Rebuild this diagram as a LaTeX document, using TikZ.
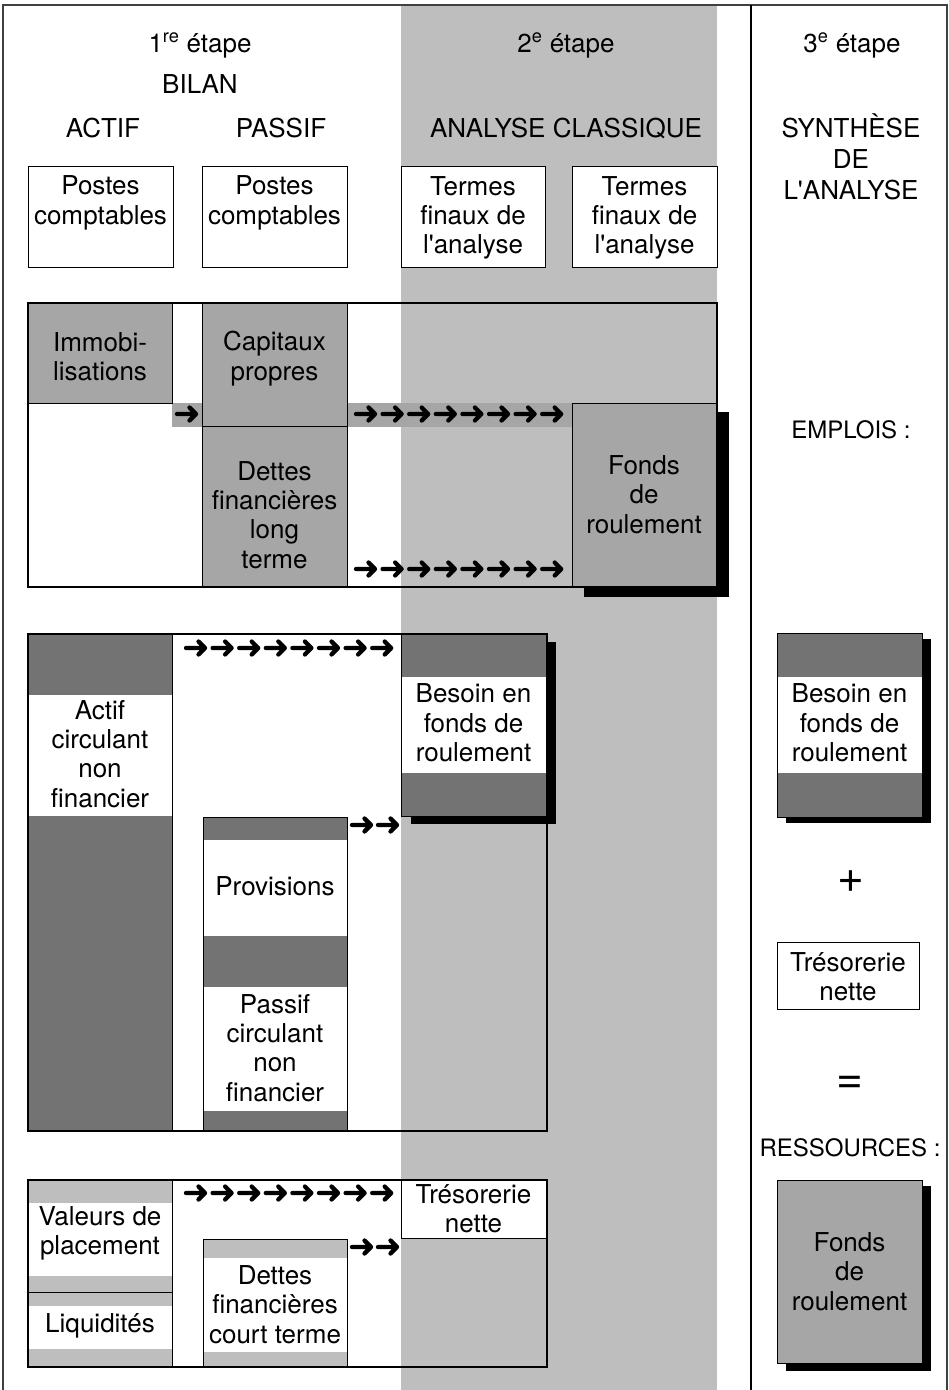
\documentclass[tikz,border=0pt]{standalone}
\usepackage{fontspec}
\newfontfamily\helv{TeX Gyre Heros}
\usetikzlibrary{calc}
\definecolor{bande}{gray}{0.745}
\definecolor{grismoyen}{gray}{0.65}
\definecolor{grisfonce}{gray}{0.45}
\definecolor{grisclair}{gray}{0.745}
\begin{document}
\begin{tikzpicture}[x=1pt,y=-1pt,
    txt/.style={font=\helv\fontsize{26}{29.3}\selectfont,align=center},
    petit/.style={font=\helv\fontsize{24}{28}\selectfont},
    signe/.style={font=\helv\fontsize{46}{46}\selectfont},
    cadre/.style={draw=black,line width=2pt},
    boite/.style={draw=black,line width=1pt},
    ombre/.style={fill=black},
    flecha/.pic={\draw [line width=4.3pt,line cap=round,line join=round] (2,0) -- (21,0) (14.5,-6.5) -- (21,0) -- (14.5,6.5);}]
            \tikzstyle{every node}+=[inner sep=0pt]
            \useasboundingbox (0,0) rectangle (949,1390);
            \fill [white] (0,0) rectangle (949,1390);
            \fill [bande] (401,5) rectangle (717,1390);
            \draw [black!75,line width=1.5pt] (3,1390) -- (3,5) -- (947,5) -- (947,1390);
            \draw [black,line width=2pt] (751,5) -- (751,1390);
            % en-tetes
            \node [txt,anchor=base] (etape1) at (200,52) {1\textsuperscript{re} étape};
            \node [txt,anchor=base] (etape2) at (566,52) {2\textsuperscript{e} étape};
            \node [txt,anchor=base] (etape3) at (852,52) {3\textsuperscript{e} étape};
            \node [txt,anchor=base] (bilan) at (200,93) {BILAN};
            \node [txt,anchor=base] (actif) at (103,137) {ACTIF};
            \node [txt,anchor=base] (passif) at (281,137) {PASSIF};
            \node [txt,anchor=base] (classique) at (566,137) {ANALYSE CLASSIQUE};
            \node [txt] (synthese) at (851,157) {SYNTHÈSE\\[1.5pt]DE\\[1.5pt]L'ANALYSE};
            \draw [boite,fill=white] (28,166) rectangle (173,267);
            \node [txt] (postesA) at (100.5,203) {Postes\\comptables};
            \draw [boite,fill=white] (202,166) rectangle (347,267);
            \node [txt] (postesP) at (274.5,203) {Postes\\comptables};
            \draw [boite,fill=white] (401,166) rectangle (545,267);
            \node [txt] (termesA) at (473,218) {Termes\\finaux de\\l'analyse};
            \draw [boite,fill=white] (572,166) rectangle (717,267);
            \node [txt] (termesB) at (644.5,218) {Termes\\finaux de\\l'analyse};
            % haut du bilan
            \fill [grismoyen] (172,403) rectangle (202,427);
            \fill [grismoyen] (347,403) rectangle (572,427);
            \draw [boite,fill=grismoyen] (28,303) rectangle (172,403);
            \draw [boite,fill=grismoyen] (202,303) rectangle (347,426);
            \draw [boite,fill=grismoyen] (202,426) rectangle (347,587);
            \fill [ombre] (584,412) rectangle (729,597);
            \draw [boite,fill=grismoyen] (572,403) rectangle (716,587);
            \draw [cadre] (28,303) rectangle (717,587);
            \node [txt] (immo) at (100,356.5) {Immobi-\\lisations};
            \node [txt] (capitaux) at (274.5,358.7) {Capitaux\\propres};
            \node [txt] (dettesLT) at (274.5,515) {Dettes\\financières\\long\\terme};
            \node [txt] (fondsA) at (644,494.5) {Fonds\\de\\roulement};
            \coordinate (fluxI) at (175,414);
            \coordinate (fluxC) at (354,414);
            \coordinate (fluxL) at (354,569);
            \pic at (fluxI) {flecha};
            \foreach \i in {0,...,7} {
                \pic at ($(fluxC)+(\i*26.6,0)$) {flecha};
                \pic at ($(fluxL)+(\i*26.6,0)$) {flecha};
            }
            % cycle d'exploitation
            \fill [grisfonce] (28,634) rectangle (172,1131);
            \fill [white] (28,695) rectangle (172,816);
            \draw [boite] (172,634) -- (172,1131);
            \fill [grisfonce] (203,817) rectangle (347,1131);
            \fill [white] (203,840) rectangle (347,936);
            \fill [white] (203,987) rectangle (347,1111);
            \draw [boite] (203,817) rectangle (347,1131);
            \fill [ombre] (411,642) rectangle (556,824);
            \fill [grisfonce] (401,634) rectangle (546,816);
            \fill [white] (401,677) rectangle (546,773);
            \draw [boite] (401,634) rectangle (546,816);
            \draw [cadre] (28,634) rectangle (547,1131);
            \node [txt] (actifC) at (100,754) {Actif\\circulant\\non\\financier};
            \node [txt] (besoinA) at (473.5,723) {Besoin en\\fonds de\\roulement};
            \node [txt] (provisions) at (275,886.5) {Provisions};
            \node [txt] (passifC) at (275,1048) {Passif\\circulant\\non\\financier};
            \coordinate (fluxE) at (184,648);
            \coordinate (fluxP) at (350,825);
            \foreach \i in {0,...,7} \pic at ($(fluxE)+(\i*26.6,0)$) {flecha};
            \foreach \i in {0,1} \pic at ($(fluxP)+(\i*26,0)$) {flecha};
            % tresorerie
            \fill [grisclair] (28,1180) rectangle (172,1367);
            \fill [white] (28,1203) rectangle (172,1276);
            \fill [white] (28,1306) rectangle (172,1349);
            \draw [boite] (28,1292) -- (172,1292);
            \draw [boite] (172,1180) -- (172,1367);
            \fill [grisclair] (203,1239) rectangle (347,1367);
            \fill [white] (203,1258) rectangle (347,1352);
            \draw [boite] (203,1239) rectangle (347,1367);
            \draw [boite,fill=white] (401,1180) rectangle (546,1238);
            \draw [cadre] (28,1180) rectangle (547,1367);
            \node [txt] (valeurs) at (100,1233) {Valeurs de\\placement};
            \node [txt] (liquidites) at (100,1326) {Liquidités};
            \node [txt] (tresoA) at (473.5,1209) {Trésorerie\\nette};
            \node [txt] (dettesCT) at (275,1304.5) {Dettes\\financières\\court terme};
            \coordinate (fluxT) at (184,1193);
            \coordinate (fluxD) at (350,1247);
            \foreach \i in {0,...,7} \pic at ($(fluxT)+(\i*26.6,0)$) {flecha};
            \foreach \i in {0,1} \pic at ($(fluxD)+(\i*26,0)$) {flecha};
            % synthese
            \node [petit,anchor=base] (emplois) at (851,438) {EMPLOIS :};
            \fill [ombre] (786,639) rectangle (931,823);
            \fill [grisfonce] (777,633) rectangle (922,817);
            \fill [white] (777,677) rectangle (922,773);
            \draw [boite] (777,633) rectangle (922,817);
            \node [txt] (besoinB) at (849.5,723) {Besoin en\\fonds de\\roulement};
            \node [signe] (plus) at (851,882) {+};
            \draw [boite,fill=white] (777,942) rectangle (919,1009);
            \node [txt] (tresoB) at (848,976.5) {Trésorerie\\nette};
            \node [signe] (egal) at (850,1085) {=};
            \node [petit,anchor=base] (ressources) at (850,1156) {RESSOURCES :};
            \fill [ombre] (786,1186) rectangle (931,1371);
            \draw [boite,fill=grismoyen] (777,1180) rectangle (922,1363);
            \node [txt] (fondsB) at (849.5,1271.5) {Fonds\\de\\roulement};
        \end{tikzpicture}
\end{document}
